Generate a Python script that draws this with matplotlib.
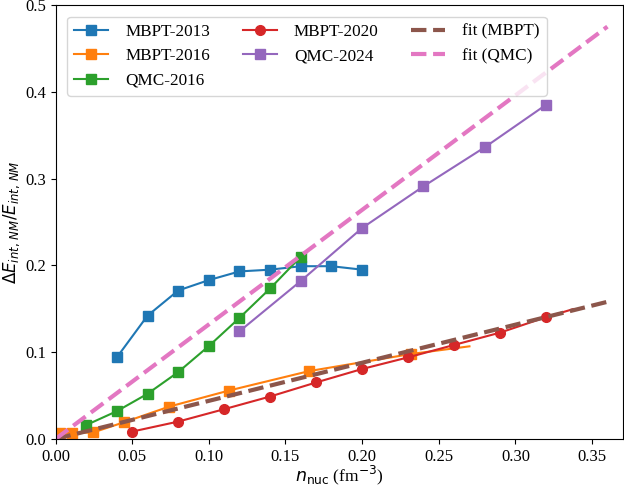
import matplotlib
matplotlib.use("Agg")
import matplotlib.pyplot as plt
import numpy as np

plt.rcParams['font.family'] = ['Liberation Serif', 'DejaVu Serif']
plt.rcParams['mathtext.fontset'] = 'dejavusans'
plt.rcParams['font.size'] = 12

# MBPT-2013
x_mbpt2013 = [0.04, 0.06, 0.08, 0.10, 0.12, 0.14, 0.16, 0.18, 0.20]
y_mbpt2013 = [0.094, 0.142, 0.171, 0.183, 0.193, 0.195, 0.199, 0.199, 0.195]

# MBPT-2016 (line extends past last marker)
x_mbpt2016 = [0.003, 0.0105, 0.0245, 0.0448, 0.0742, 0.1132, 0.1655, 0.232, 0.270]
y_mbpt2016 = [0.007, 0.0068, 0.0075, 0.0193, 0.0373, 0.0558, 0.0782, 0.0979, 0.1067]

# QMC-2016
x_qmc2016 = [0.02, 0.04, 0.06, 0.08, 0.10, 0.12, 0.14, 0.16]
y_qmc2016 = [0.016, 0.032, 0.052, 0.077, 0.107, 0.1395, 0.1734, 0.210]

# MBPT-2020 (line extends past last marker)
x_mbpt2020 = [0.05, 0.08, 0.11, 0.14, 0.17, 0.20, 0.23, 0.26, 0.29, 0.32, 0.3375]
y_mbpt2020 = [0.0085, 0.020, 0.0343, 0.0489, 0.0651, 0.0806, 0.094, 0.1083, 0.1225, 0.1403, 0.1495]

# QMC-2024
x_qmc2024 = [0.12, 0.16, 0.20, 0.24, 0.28, 0.32]
y_qmc2024 = [0.124, 0.182, 0.243, 0.291, 0.336, 0.385]

# fits
x_fit = [0.0, 0.36]
y_fit_mbpt = [0.0, 0.158]
y_fit_qmc = [0.0, 0.475]

fig = plt.figure(figsize=(6.24, 4.91), dpi=100)
ax = fig.add_axes([0.089, 0.106, 0.909, 0.884])

ms = 7
ax.plot(x_mbpt2013, y_mbpt2013, 's-', color='tab:blue', ms=ms, label='MBPT-2013')
ax.plot(x_mbpt2016, y_mbpt2016, 's-', color='tab:orange', ms=ms,
        markevery=list(range(len(x_mbpt2016) - 1)), label='MBPT-2016')
ax.plot(x_qmc2016, y_qmc2016, 's-', color='tab:green', ms=ms, label='QMC-2016')
ax.plot(x_mbpt2020, y_mbpt2020, 'o-', color='tab:red', ms=ms,
        markevery=list(range(len(x_mbpt2020) - 1)), label='MBPT-2020')
ax.plot(x_qmc2024, y_qmc2024, 's-', color='tab:purple', ms=ms, label='QMC-2024')
ax.plot(x_fit, y_fit_mbpt, '--', color='tab:brown', lw=3, label='fit (MBPT)')
ax.plot(x_fit, y_fit_qmc, '--', color='tab:pink', lw=3, label='fit (QMC)')

ax.set_xlim(0, 0.37)
ax.set_ylim(0, 0.5)
ax.set_xticks(np.arange(0, 0.36, 0.05))
ax.set_yticks(np.arange(0, 0.51, 0.1))
ax.xaxis.set_major_formatter(matplotlib.ticker.FormatStrFormatter('%.2f'))
ax.yaxis.set_major_formatter(matplotlib.ticker.FormatStrFormatter('%.1f'))

ax.set_xlabel(r'$n_{\rm nuc}$ (fm$^{-3}$)', fontsize=12.5, labelpad=-1)
ax.set_ylabel(r'$\Delta E_{int,\,NM}/E_{int,\,NM}$', fontsize=12, labelpad=2)

ax.legend(ncol=3, loc='upper left', fontsize=12.3, handletextpad=1.0,
          columnspacing=1.9, borderaxespad=0.7)

fig.savefig('out.png', dpi=100)
